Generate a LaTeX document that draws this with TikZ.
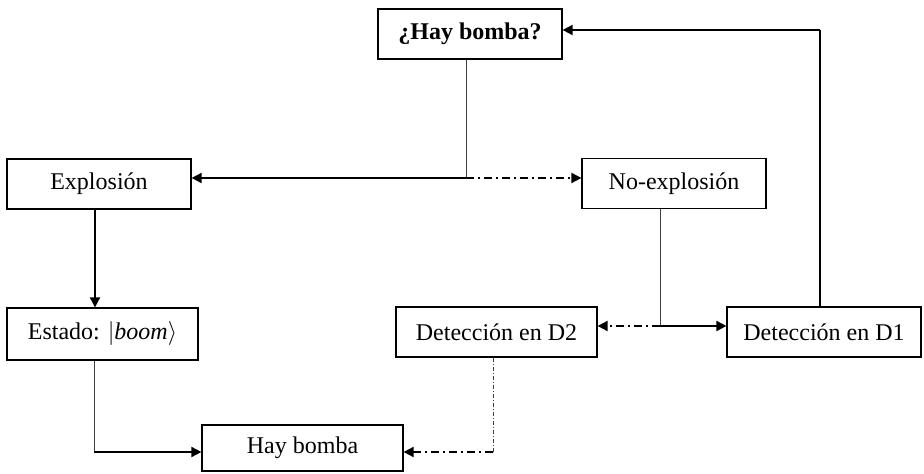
\documentclass[tikz,border=0pt]{standalone}
\usepackage{fontspec}
\setmainfont{Liberation Serif}
\usetikzlibrary{arrows.meta}

\begin{document}
\begin{tikzpicture}[x=0.5pt, y=-0.5pt,
	box/.style={draw, line width=0.6pt, minimum height=25pt, inner sep=0pt, font=\fontsize{12}{14}\selectfont},
	conn/.style={line width=0.9pt, -{Triangle[length=5pt,width=5pt]}},
	dotarrow/.style={conn, dash pattern=on 4pt off 2pt on 1pt off 2pt},
	stem/.style={line width=0.45pt, black!75}]
	\useasboundingbox (0,0) rectangle (924,474);
	
	% boxes
	\node[box, minimum width=92pt] (hq) at (470,34) {\textbf{¿Hay bomba?}};
	\node[box, minimum width=92pt] (expl) at (99,184) {Explosión};
	\node[box, minimum width=92pt] (noexpl) at (674,183.5) {No-explosión};
	\node[box, minimum width=95.5pt, minimum height=26pt] (estado) at (102.5,334) {Estado: $|\mathit{boom}\rangle$};
	\node[box, minimum width=100.5pt] (d2) at (496.5,332) {Detección en D2};
	\node[box, minimum width=97pt] (d1) at (824,332) {Detección en D1};
	\node[box, minimum width=100.5pt, minimum height=23pt] (hay) at (302.5,448) {Hay bomba};
	
	% corners of the connectors
	\coordinate (split1) at (466,178);
	\coordinate (split2) at (660,326);
	\coordinate (col) at (95,0);
	\coordinate (turn1) at (94,452);
	\coordinate (turn2) at (493,452);
	\coordinate (turn3) at (820,30);
	
	\draw[stem] (hq.south -| split1) -- (split1);
	\draw[conn] (split1) -- (split1 -| expl.east);
	\draw[dotarrow] (split1) -- (split1 -| noexpl.west);
	
	\draw[conn] (expl.south -| col) -- (estado.north -| col);
	
	\draw[stem] (estado.south -| turn1) -- (turn1);
	\draw[conn] (turn1) -- (turn1 -| hay.west);
	
	\draw[stem] (noexpl.south -| split2) -- (split2);
	\draw[conn] (split2) -- (split2 -| d1.west);
	\draw[dotarrow] (split2) -- (split2 -| d2.east);
	
	\draw[stem, dash pattern=on 2pt off 1pt on 0.5pt off 1pt] (d2.south -| turn2) -- (turn2);
	\draw[dotarrow] (turn2) -- (turn2 -| hay.east);
	
	\draw[line width=0.6pt] (d1.north -| turn3) -- (turn3);
	\draw[conn] (turn3) -- (turn3 -| hq.east);
\end{tikzpicture}
\end{document}
